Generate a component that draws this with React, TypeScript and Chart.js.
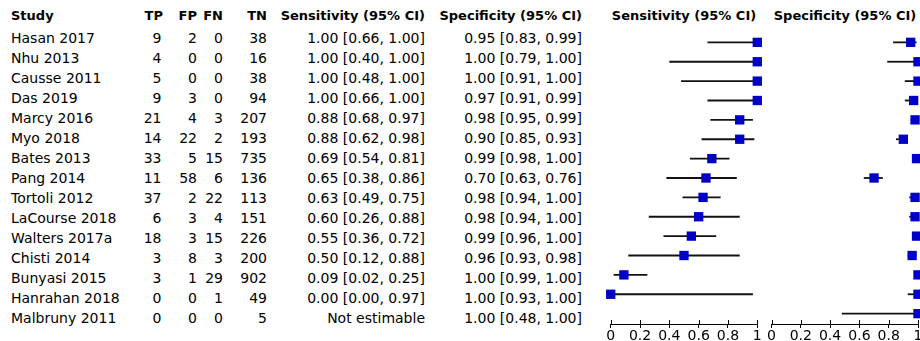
import React, { useEffect, useRef } from "react";
import { Chart, registerables } from "chart.js";

Chart.register(...registerables);

// ---------- data ----------
const studies = [
  "Hasan 2017", "Nhu 2013", "Causse 2011", "Das 2019", "Marcy 2016", "Myo 2018",
  "Bates 2013", "Pang 2014", "Tortoli 2012", "LaCourse 2018", "Walters 2017a",
  "Chisti 2014", "Bunyasi 2015", "Hanrahan 2018", "Malbruny 2011",
];
const tp = [9, 4, 5, 9, 21, 14, 33, 11, 37, 6, 18, 3, 3, 0, 0];
const fp = [2, 0, 0, 3, 4, 22, 5, 58, 2, 3, 3, 8, 1, 0, 0];
const fn = [0, 0, 0, 0, 3, 2, 15, 6, 22, 4, 15, 3, 29, 1, 0];
const tn = [38, 16, 38, 94, 207, 193, 735, 136, 113, 151, 226, 200, 902, 49, 5];

const sens: (number | null)[] = [1.0, 1.0, 1.0, 1.0, 0.88, 0.88, 0.69, 0.65, 0.63, 0.6, 0.55, 0.5, 0.09, 0.0, null];
const sensLo: (number | null)[] = [0.66, 0.4, 0.48, 0.66, 0.68, 0.62, 0.54, 0.38, 0.49, 0.26, 0.36, 0.12, 0.02, 0.0, null];
const sensHi: (number | null)[] = [1.0, 1.0, 1.0, 1.0, 0.97, 0.98, 0.81, 0.86, 0.75, 0.88, 0.72, 0.88, 0.25, 0.97, null];

const spec: (number | null)[] = [0.95, 1.0, 1.0, 0.97, 0.98, 0.9, 0.99, 0.7, 0.98, 0.98, 0.99, 0.96, 1.0, 1.0, 1.0];
const specLo: (number | null)[] = [0.83, 0.79, 0.91, 0.91, 0.95, 0.85, 0.98, 0.63, 0.94, 0.94, 0.96, 0.93, 0.99, 0.93, 0.48];
const specHi: (number | null)[] = [0.99, 1.0, 1.0, 0.99, 0.99, 0.93, 1.0, 0.76, 1.0, 1.0, 1.0, 0.98, 1.0, 1.0, 1.0];

const axisTicks = [0, 0.2, 0.4, 0.6, 0.8, 1];
const axisTickLabels = ["0", "0.2", "0.4", "0.6", "0.8", "1"];

// ---------- styling ----------
const FONT = "'DejaVu Sans', sans-serif";
const TICK_FONT = "'DejaVu Sans', sans-serif";
const BLUE = "#0000c8";
const ROW_STEP = 19.78;
const FIRST_ROW_PX = 36.5;
const PLOT_BOTTOM = 324;
const Y_MIN = -FIRST_ROW_PX / ROW_STEP;
const Y_MAX = Y_MIN + PLOT_BOTTOM / ROW_STEP;

function fmt(v: number | null, lo: number | null, hi: number | null) {
  if (v === null || lo === null || hi === null) return "Not estimable";
  return `${v.toFixed(2)} [${lo.toFixed(2)}, ${hi.toFixed(2)}]`;
}

type PanelProps = {
  left: number;
  width: number;
  padLeft: number;
  padRight: number;
  est: (number | null)[];
  lo: (number | null)[];
  hi: (number | null)[];
};

function ForestPanel({ left, width, padLeft, padRight, est, lo, hi }: PanelProps) {
  const ref = useRef<HTMLCanvasElement | null>(null);
  useEffect(() => {
    if (!ref.current) return;
    const rows = studies.map((_, i) => i).filter((i) => est[i] !== null);
    const ciSets = rows.map((i) => ({
      type: "scatter" as const,
      showLine: true,
      data: [
        { x: lo[i] as number, y: i },
        { x: hi[i] as number, y: i },
      ],
      borderColor: "#111",
      borderWidth: 1.8,
      pointRadius: 0,
      clip: false as const,
      order: 1,
    }));
    const pointSet = {
      type: "scatter" as const,
      showLine: false,
      data: rows.map((i) => ({ x: est[i] as number, y: i })),
      pointStyle: "rect" as const,
      pointRadius: 6.6,
      pointHoverRadius: 6.6,
      pointBackgroundColor: BLUE,
      pointBorderColor: BLUE,
      pointBorderWidth: 0,
      clip: false as const,
      order: 0,
    };
    const upTicks = {
      id: "upTicks",
      afterDraw(chart: any) {
        const s = chart.scales.x;
        const ctx = chart.ctx;
        ctx.save();
        ctx.strokeStyle = "#000";
        ctx.lineWidth = 1;
        ctx.beginPath();
        s.ticks.forEach((t: any) => {
          const px = Math.round(s.getPixelForValue(t.value)) + 0.5;
          ctx.moveTo(px, s.top - 4);
          ctx.lineTo(px, s.top);
        });
        ctx.stroke();
        ctx.restore();
      },
    };
    const chart = new Chart(ref.current, {
      type: "scatter",
      data: { datasets: [pointSet, ...ciSets] as any },
      options: {
        animation: false,
        responsive: false,
        devicePixelRatio: 1,
        events: [],
        layout: { padding: { left: padLeft, right: padRight, top: 0, bottom: 0 } },
        plugins: {
          legend: { display: false },
          tooltip: { enabled: false },
          title: { display: false },
        },
        scales: {
          x: {
            type: "linear",
            min: 0,
            max: 1,
            afterBuildTicks: (s: any) => {
              s.ticks = axisTicks.map((v) => ({ value: v }));
            },
            afterFit: (s: any) => {
              s.height = 341 - PLOT_BOTTOM;
            },
            ticks: {
              callback: (_v: any, idx: number) => axisTickLabels[idx] ?? "",
              color: "#000",
              font: { family: TICK_FONT, size: 14 },
              padding: 0,
              maxRotation: 0,
              autoSkip: false,
            },
            grid: { drawOnChartArea: false, drawTicks: true, tickLength: 4, color: "#000" },
            border: { display: true, color: "#000", width: 1 },
          },
          y: {
            type: "linear",
            display: false,
            reverse: true,
            min: Y_MIN,
            max: Y_MAX,
          },
        },
      } as any,
      plugins: [upTicks],
    });
    return () => chart.destroy();
  }, []);
  return (
    <canvas
      ref={ref}
      width={width}
      height={341}
      style={{ position: "absolute", left, top: 0, width, height: 341 }}
    />
  );
}

type CellProps = {
  x: number;
  top: number;
  align: "left" | "right" | "center";
  bold?: boolean;
  children: React.ReactNode;
};

function Cell({ x, top, align, bold, children }: CellProps) {
  const W = 300;
  const left = align === "left" ? x : align === "right" ? x - W : x - W / 2;
  return (
    <div
      style={{
        position: "absolute",
        left,
        top,
        width: W,
        textAlign: align,
        lineHeight: "20px",
        fontSize: bold ? 13 : 14,
        fontWeight: bold ? "bold" : "normal",
        whiteSpace: "nowrap",
      }}
    >
      {children}
    </div>
  );
}

const HEADER_TOP = 6.2;
const rowTop = (i: number) => 27.86 + 20.04 * i;

export default function App() {
  return (
    <div
      style={{
        position: "fixed",
        left: 0,
        top: 0,
        width: 920,
        height: 341,
        overflow: "hidden",
        background: "#fff",
        color: "#000",
        fontFamily: FONT,
      }}
    >
      <Cell x={11} top={HEADER_TOP} align="left" bold>Study</Cell>
      <Cell x={163} top={HEADER_TOP} align="right" bold>TP</Cell>
      <Cell x={197} top={HEADER_TOP} align="right" bold>FP</Cell>
      <Cell x={223} top={HEADER_TOP} align="right" bold>FN</Cell>
      <Cell x={267} top={HEADER_TOP} align="right" bold>TN</Cell>
      <Cell x={425} top={HEADER_TOP} align="right" bold>Sensitivity (95% CI)</Cell>
      <Cell x={582} top={HEADER_TOP} align="right" bold>Specificity (95% CI)</Cell>
      <Cell x={684} top={HEADER_TOP} align="center" bold>Sensitivity (95% CI)</Cell>
      <Cell x={845} top={HEADER_TOP} align="center" bold>Specificity (95% CI)</Cell>

      {studies.map((s, i) => (
        <React.Fragment key={s}>
          <Cell x={11} top={rowTop(i)} align="left">{s}</Cell>
          <Cell x={161.5} top={rowTop(i)} align="right">{tp[i]}</Cell>
          <Cell x={197} top={rowTop(i)} align="right">{fp[i]}</Cell>
          <Cell x={223} top={rowTop(i)} align="right">{fn[i]}</Cell>
          <Cell x={267} top={rowTop(i)} align="right">{tn[i]}</Cell>
          <Cell x={425} top={rowTop(i)} align="right">{fmt(sens[i], sensLo[i], sensHi[i])}</Cell>
          <Cell x={582} top={rowTop(i)} align="right">{fmt(spec[i], specLo[i], specHi[i])}</Cell>
        </React.Fragment>
      ))}

      <ForestPanel left={600} width={170} padLeft={10.7} padRight={12.7} est={sens} lo={sensLo} hi={sensHi} />
      <ForestPanel left={760} width={175} padLeft={11.5} padRight={17} est={spec} lo={specLo} hi={specHi} />
    </div>
  );
}
